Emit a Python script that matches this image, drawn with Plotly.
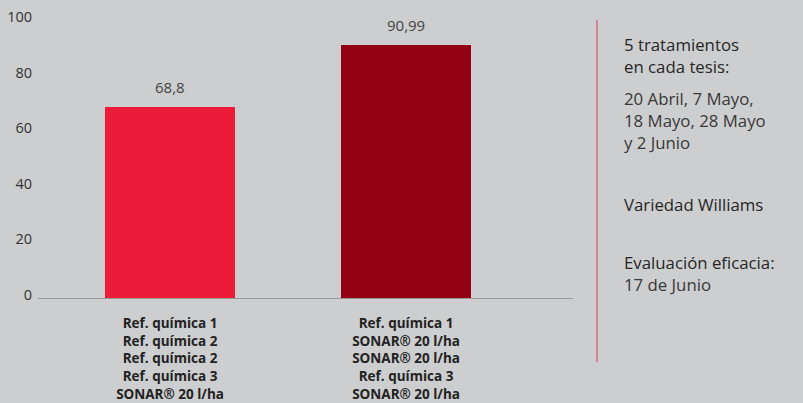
import plotly.graph_objects as go

categories = [
    "Ref. química 1<br>Ref. química 2<br>Ref. química 2<br>Ref. química 3<br>SONAR® 20 l/ha",
    "Ref. química 1<br>SONAR® 20 l/ha<br>SONAR® 20 l/ha<br>Ref. química 3<br>SONAR® 20 l/ha",
]
values = [68.8, 90.99]
bar_colors = ["#ed1b3a", "#930013"]
y_ticks = [0, 20, 40, 60, 80, 100]

side_blocks = [
    ("5 tratamientos<br>en cada tesis:", 56, "#262626"),
    ("20 Abril, 7 Mayo,<br>18 Mayo, 28 Mayo<br>y 2 Junio", 120, "#383838"),
    ("Variedad Williams", 204, "#262626"),
    ("Evaluación eficacia:<br><span style='color:#383838'>17 de Junio</span>", 273, "#262626"),
]

W, H = 803, 403
L, R, T, B = 38, 230, 20, 105
plot_h = H - T - B
plot_w = W - L - R

def py(pix):
    return (H - B - pix) / plot_h

def px(pix):
    return (pix - L) / plot_w

fig = go.Figure()
fig.add_trace(go.Bar(
    x=[0, 1], y=values, marker=dict(color=bar_colors, line=dict(width=0)),
    width=0.551, hoverinfo="skip",
))

for i, v in enumerate(values):
    fig.add_annotation(x=i, y=v, text=f"{v}".replace(".", ","), showarrow=False,
                       yanchor="bottom", yshift=8,
                       font=dict(family="Open Sans", size=15, color="#444444"))

for text, ypix, col in side_blocks:
    fig.add_annotation(xref="paper", yref="paper", x=px(622), y=py(ypix), text=text,
                       showarrow=False, xanchor="left", yanchor="middle", align="left",
                       font=dict(family="Open Sans", size=16.8, color=col))

fig.add_shape(type="line", xref="paper", yref="paper", x0=px(597), x1=px(597),
              y0=py(20), y1=py(362), line=dict(color="#d5566c", width=1.2))

fig.update_layout(
    width=W, height=H, autosize=False,
    margin=dict(l=L, r=R, t=T, b=B),
    paper_bgcolor="#cdcecf", plot_bgcolor="#cdcecf",
    showlegend=False, bargap=0,
    separators=",.",
    font=dict(family="Open Sans"),
    xaxis=dict(
        range=[-0.5593, 1.7073], tickmode="array", tickvals=[0, 1],
        ticktext=[f"<b>{c}</b>" for c in categories],
        tickfont=dict(family="Open Sans", size=13.5, color="#222222"),
        showline=True, linecolor="#9a9a9a", linewidth=1.2, automargin=False,
        showgrid=False, zeroline=False, ticks="", ticklabelstandoff=13,
    ),
    yaxis=dict(
        range=[0, 100], tickmode="array", tickvals=y_ticks,
        tickfont=dict(family="Open Sans", size=14.5, color="#333333"),
        showgrid=False, zeroline=False, showline=False, ticks="", automargin=False,
        ticklabelstandoff=5, ticklabelshift=-3,
    ),
)

fig.write_html("out.html", config={"responsive": False, "displayModeBar": False},
               post_script="document.body.style.margin='0';document.body.style.padding='0';document.body.style.overflow='hidden';")
